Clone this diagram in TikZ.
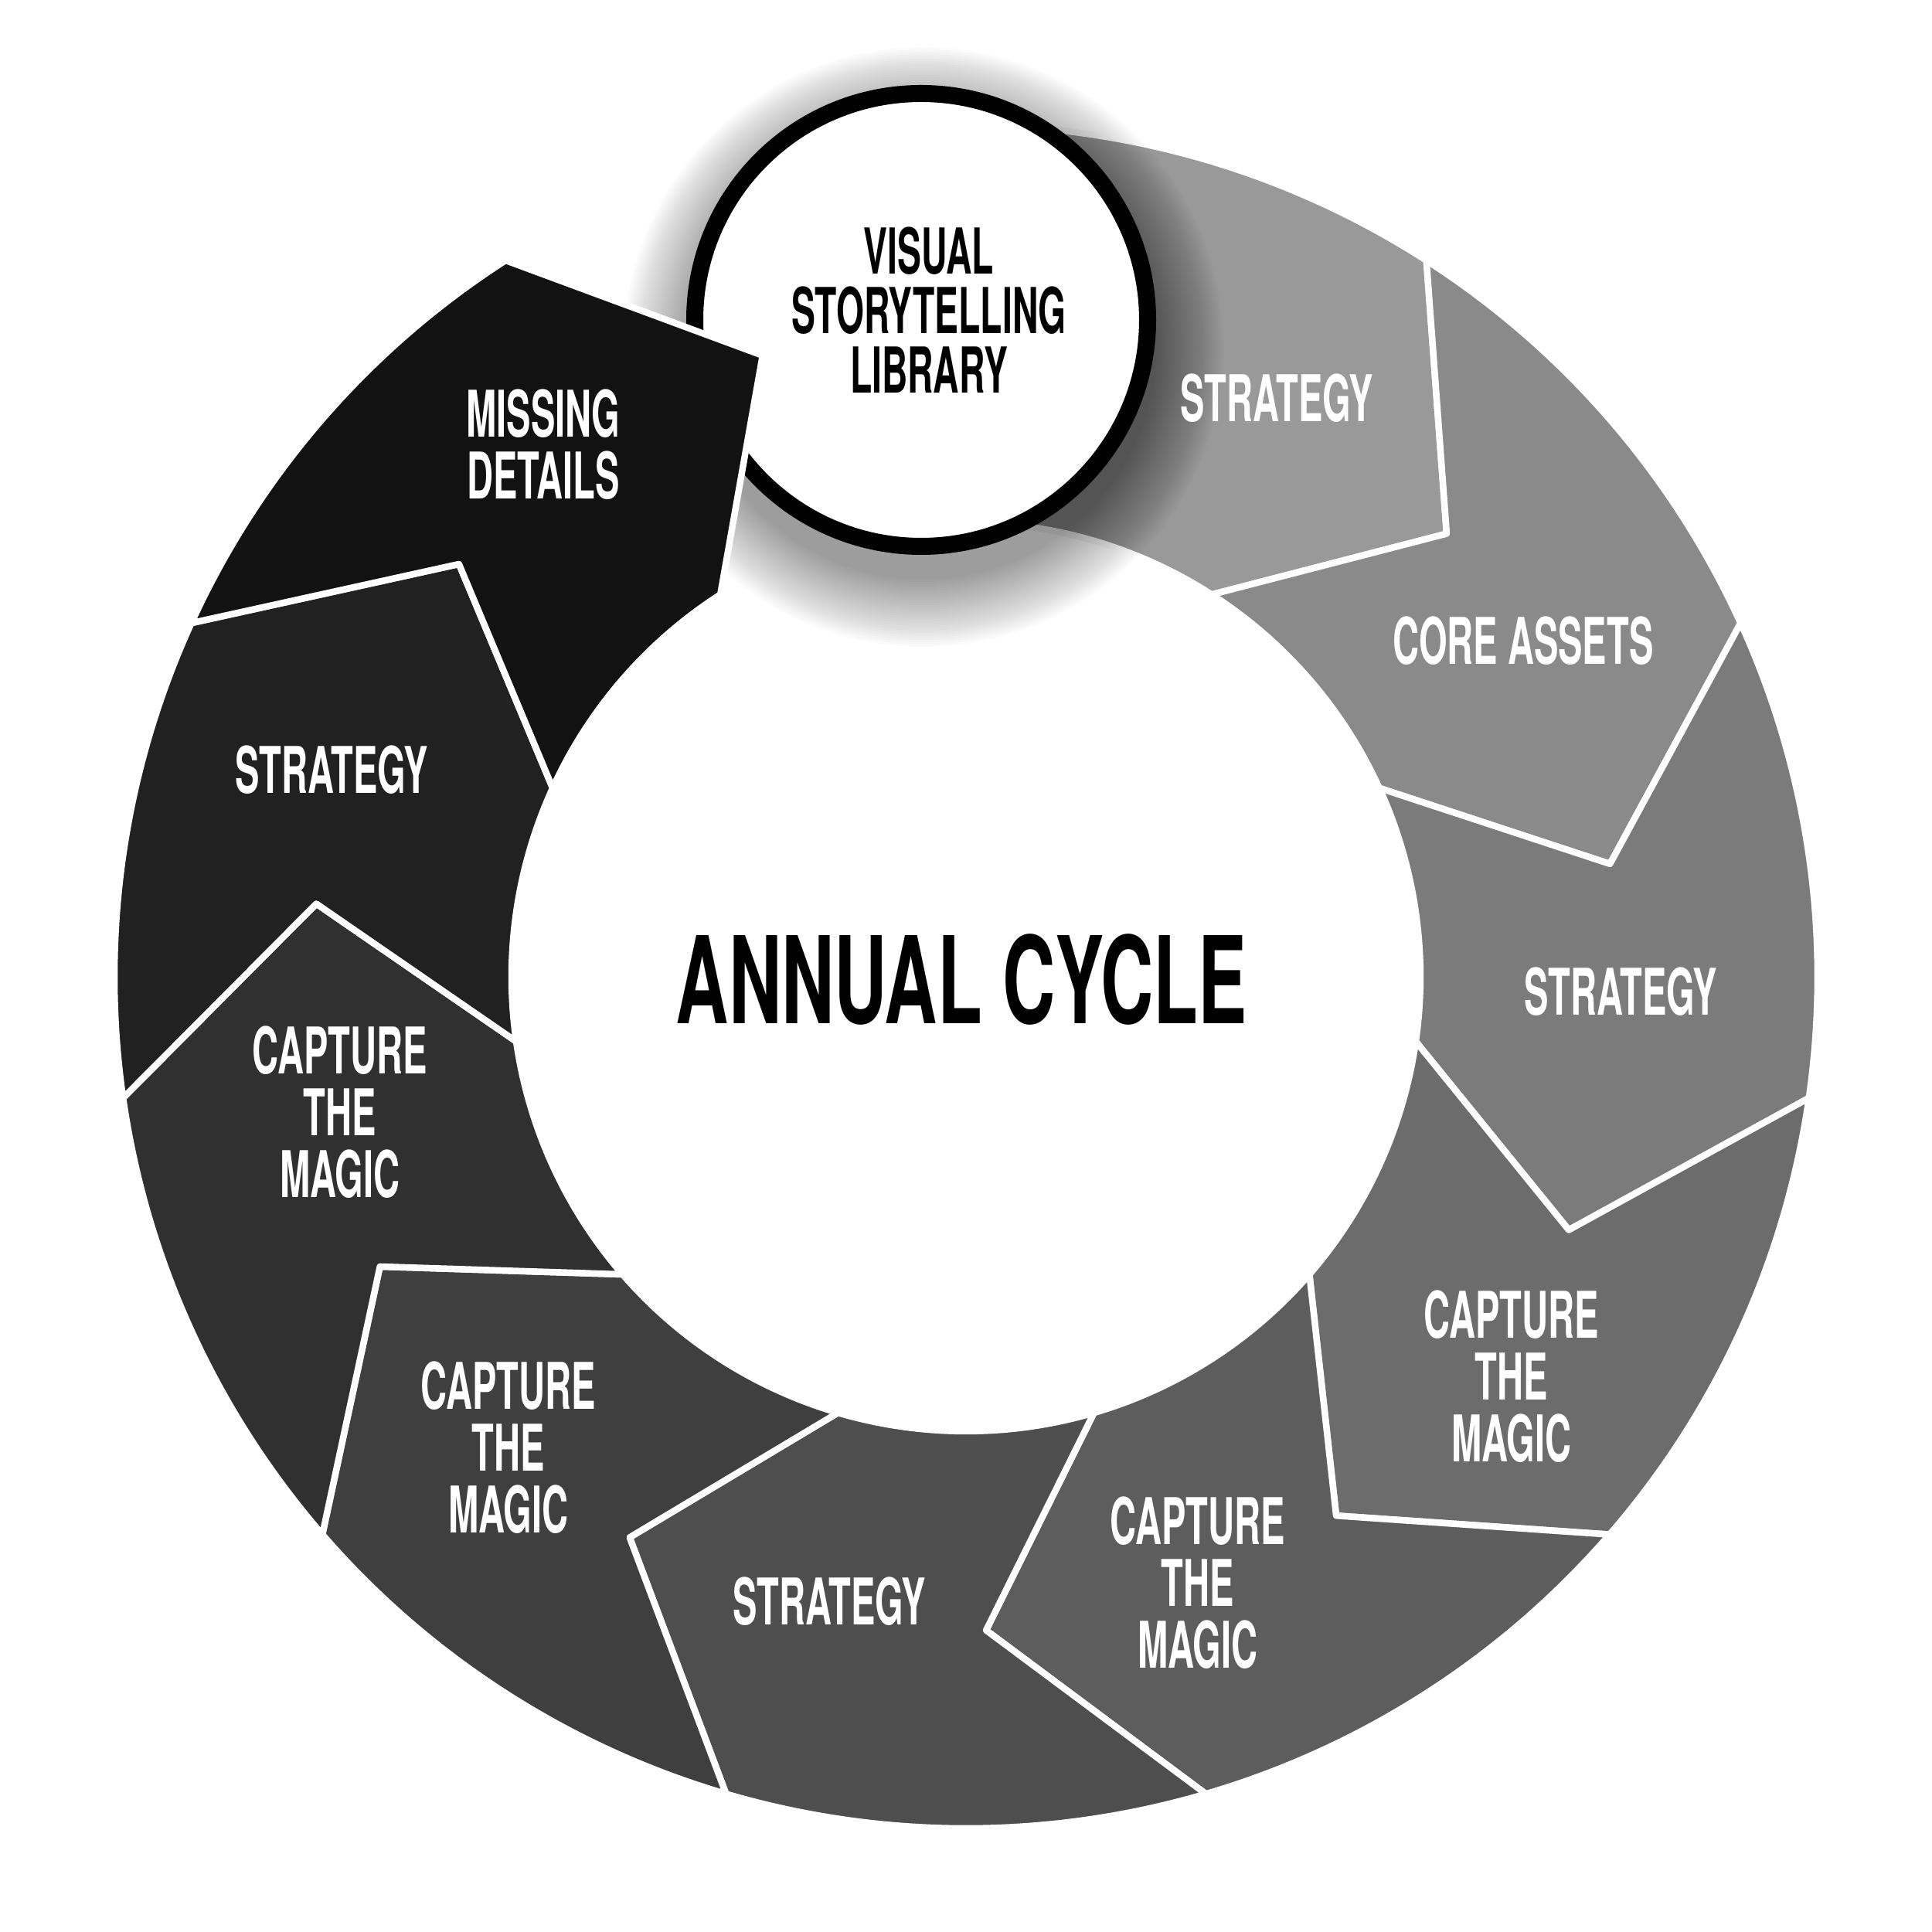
\documentclass[tikz,border=0pt]{standalone}
\usepackage{fontspec}
\setmainfont{TeX Gyre Heros}
\newfontfamily\cyclefont{TeX Gyre Heros}[FakeStretch=0.565]
\newfontfamily\hubfont{TeX Gyre Heros}[FakeStretch=0.605]
\usepackage{tikz}
\usetikzlibrary{calc}

\def\Rout{11.02}
\def\Rin{5.88}
\def\Rtip{8.46}
% one chevron of the ring, #1 = number from the top, clockwise
\newcommand{\cycleseg}[1]{%
	\pgfmathsetmacro\sa{90-#1*360/11}%
	\pgfmathsetmacro\sb{\sa-360/11}%
	\pgfmathsetmacro\sg{(153-15*#1)/255}%
	\definecolor{segfill}{gray}{\sg}%
	\path[seg,fill=segfill] (\sa:\Rout) arc[start angle=\sa,end angle=\sb,radius=\Rout]
	-- (\sb-14.6:\Rtip) -- (\sb:\Rin) arc[start angle=\sb,end angle=\sa,radius=\Rin]
	-- (\sa-14.6:\Rtip) -- cycle;}

\begin{document}
\begin{tikzpicture}[
	seg/.style={draw=white,line width=2.4pt,line join=round},
	ring label/.style={
		text=white,align=center,inner sep=0pt,
		font=\cyclefont\bfseries\fontsize{23.7}{22.7}\selectfont},
	lib node/.style={
		circle,draw=black,fill=white,line width=0.22cm,
		minimum size=5.86cm,inner sep=0pt},
	lib label/.style={
		text=black,align=center,inner sep=0pt,
		font=\cyclefont\bfseries\fontsize{23.3}{22}\selectfont},
	hub label/.style={
		text=black,inner sep=0pt,
		font=\hubfont\bfseries\fontsize{44.5}{44.5}\selectfont}
	]
	\useasboundingbox (-12.5,-12.36) rectangle (12.5,12.64);
	
	\foreach \i in {0,...,8} {\cycleseg{\i}}
	
	% soft shadow under the library circle
	\coordinate (hub) at (-0.58,8.50);
	\foreach \k in {1,...,30}
	\fill[black,opacity=0.015] ($(hub)+(0.03,-0.35)$) circle ({2.98+0.03*\k});
	\node[lib node] (11) at (hub) {};
	\node[lib label] (12) at (-0.48,8.63) {VISUAL\\STORYTELLING\\LIBRARY};
	
	% last chevron lies over the circle
	\cycleseg{9}
	
	\node[ring label] (1) at (4.02,7.49) {STRATEGY};
	\node[ring label] (2) at (7.21,4.35) {CORE ASSETS};
	\node[ring label] (3) at (8.47,-0.19) {STRATEGY};
	\node[ring label] (4) at (7.06,-5.17) {CAPTURE\\THE\\MAGIC};
	\node[ring label] (5) at (3.00,-7.84) {CAPTURE\\THE\\MAGIC};
	\node[ring label] (6) at (-1.77,-8.08) {STRATEGY};
	\node[ring label] (7) at (-5.92,-6.09) {CAPTURE\\THE\\MAGIC};
	\node[ring label] (8) at (-8.10,-1.75) {CAPTURE\\THE\\MAGIC};
	\node[ring label] (9) at (-8.21,2.68) {STRATEGY};
	\node[ring label] (10) at (-5.47,6.89) {MISSING\\DETAILS};
	
	\node[hub label] (13) at (-0.06,-0.03) {ANNUAL CYCLE};
\end{tikzpicture}
\end{document}
